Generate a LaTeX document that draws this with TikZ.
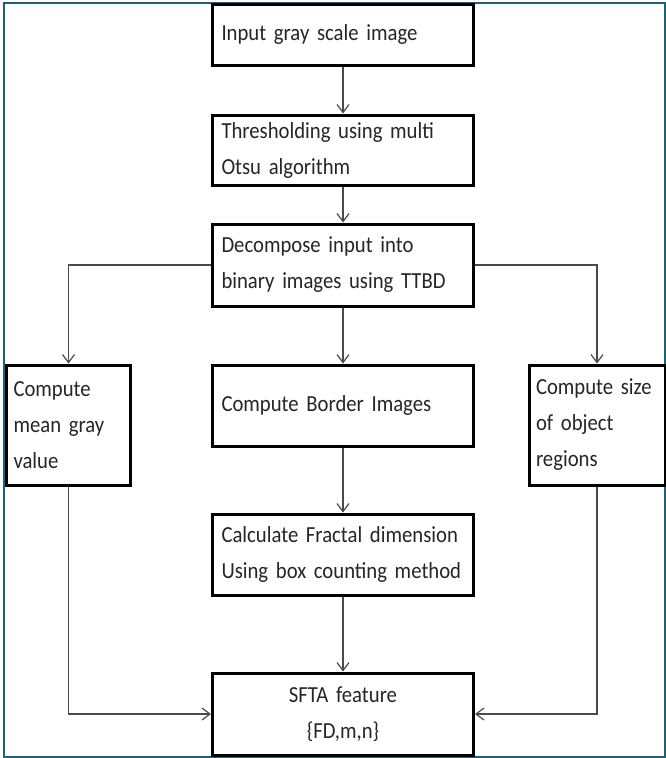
\documentclass[tikz,border=0pt]{standalone}
\usepackage{fontspec}
\setmainfont{Carlito}[FakeStretch=0.9]
\usetikzlibrary{positioning,arrows.meta}
\definecolor{frameteal}{HTML}{1B6478}
\definecolor{linegray}{HTML}{4A4A4A}
\newcommand{\boxfont}{\fontsize{23}{36}\selectfont\fontdimen2\font=2.4pt\relax}

\tikzset{
    stepbox/.style={draw=black, line width=3pt, fill=white, text=black!85,
        font=\boxfont, align=left, inner xsep=9pt, inner ysep=0pt},
    mainbox/.style={stepbox, minimum width=261pt, text width=243pt},
    sidebox/.style={stepbox, minimum width=120pt, text width=110pt, inner xsep=7pt,
        minimum height=120pt},
    flow/.style={draw=linegray, line width=1.2pt, -{Straight Barb[length=8pt,width=12pt]}},
}

\begin{document}
\begin{tikzpicture}[x=1pt, y=-1pt]
    \useasboundingbox (0,0) rectangle (666,758);
    % outer frame
    \draw[frameteal, line width=2pt] (4,2.5) rectangle (664.5,756.5);

    % main column
    \node[mainbox, minimum height=61pt] (input) at (343,34.5) {Input gray scale image};
    \node[mainbox, minimum height=70pt] (thresh) at (343,150) {Thresholding using multi\\Otsu algorithm};
    \node[mainbox, minimum height=82pt] (decomp) at (343,265) {Decompose input into\\binary images using TTBD};
    \node[mainbox, minimum height=81pt] (border) at (343,405.5) {Compute Border Images};
    \node[mainbox, minimum height=81pt] (fractal) at (343,554.5) {Calculate Fractal dimension\\Using box counting method};
    \node[mainbox, minimum height=82pt, align=center] (sfta) at (343,714) {SFTA feature\\\{FD,m,n\}};

    % side boxes
    \node[sidebox] (mean) at (68.5,425) {Compute\\mean gray\\value};
    \node[sidebox, minimum width=134pt, text width=122pt] (size) at (597,425) {Compute size\\of object\\regions};

    % connectors
    \draw[flow] (input) -- (thresh);
    \draw[flow] (thresh) -- (decomp);
    \draw[flow] (decomp) -- (border);
    \draw[flow] (border) -- (fractal);
    \draw[flow] (fractal) -- (sfta);
    \draw[flow] (decomp.west) -| (mean.north);
    \draw[flow] (decomp.east) -| (size.north);
    \draw[flow] (mean.south) |- (sfta.west);
    \draw[flow] (size.south) |- (sfta.east);
\end{tikzpicture}
\end{document}
